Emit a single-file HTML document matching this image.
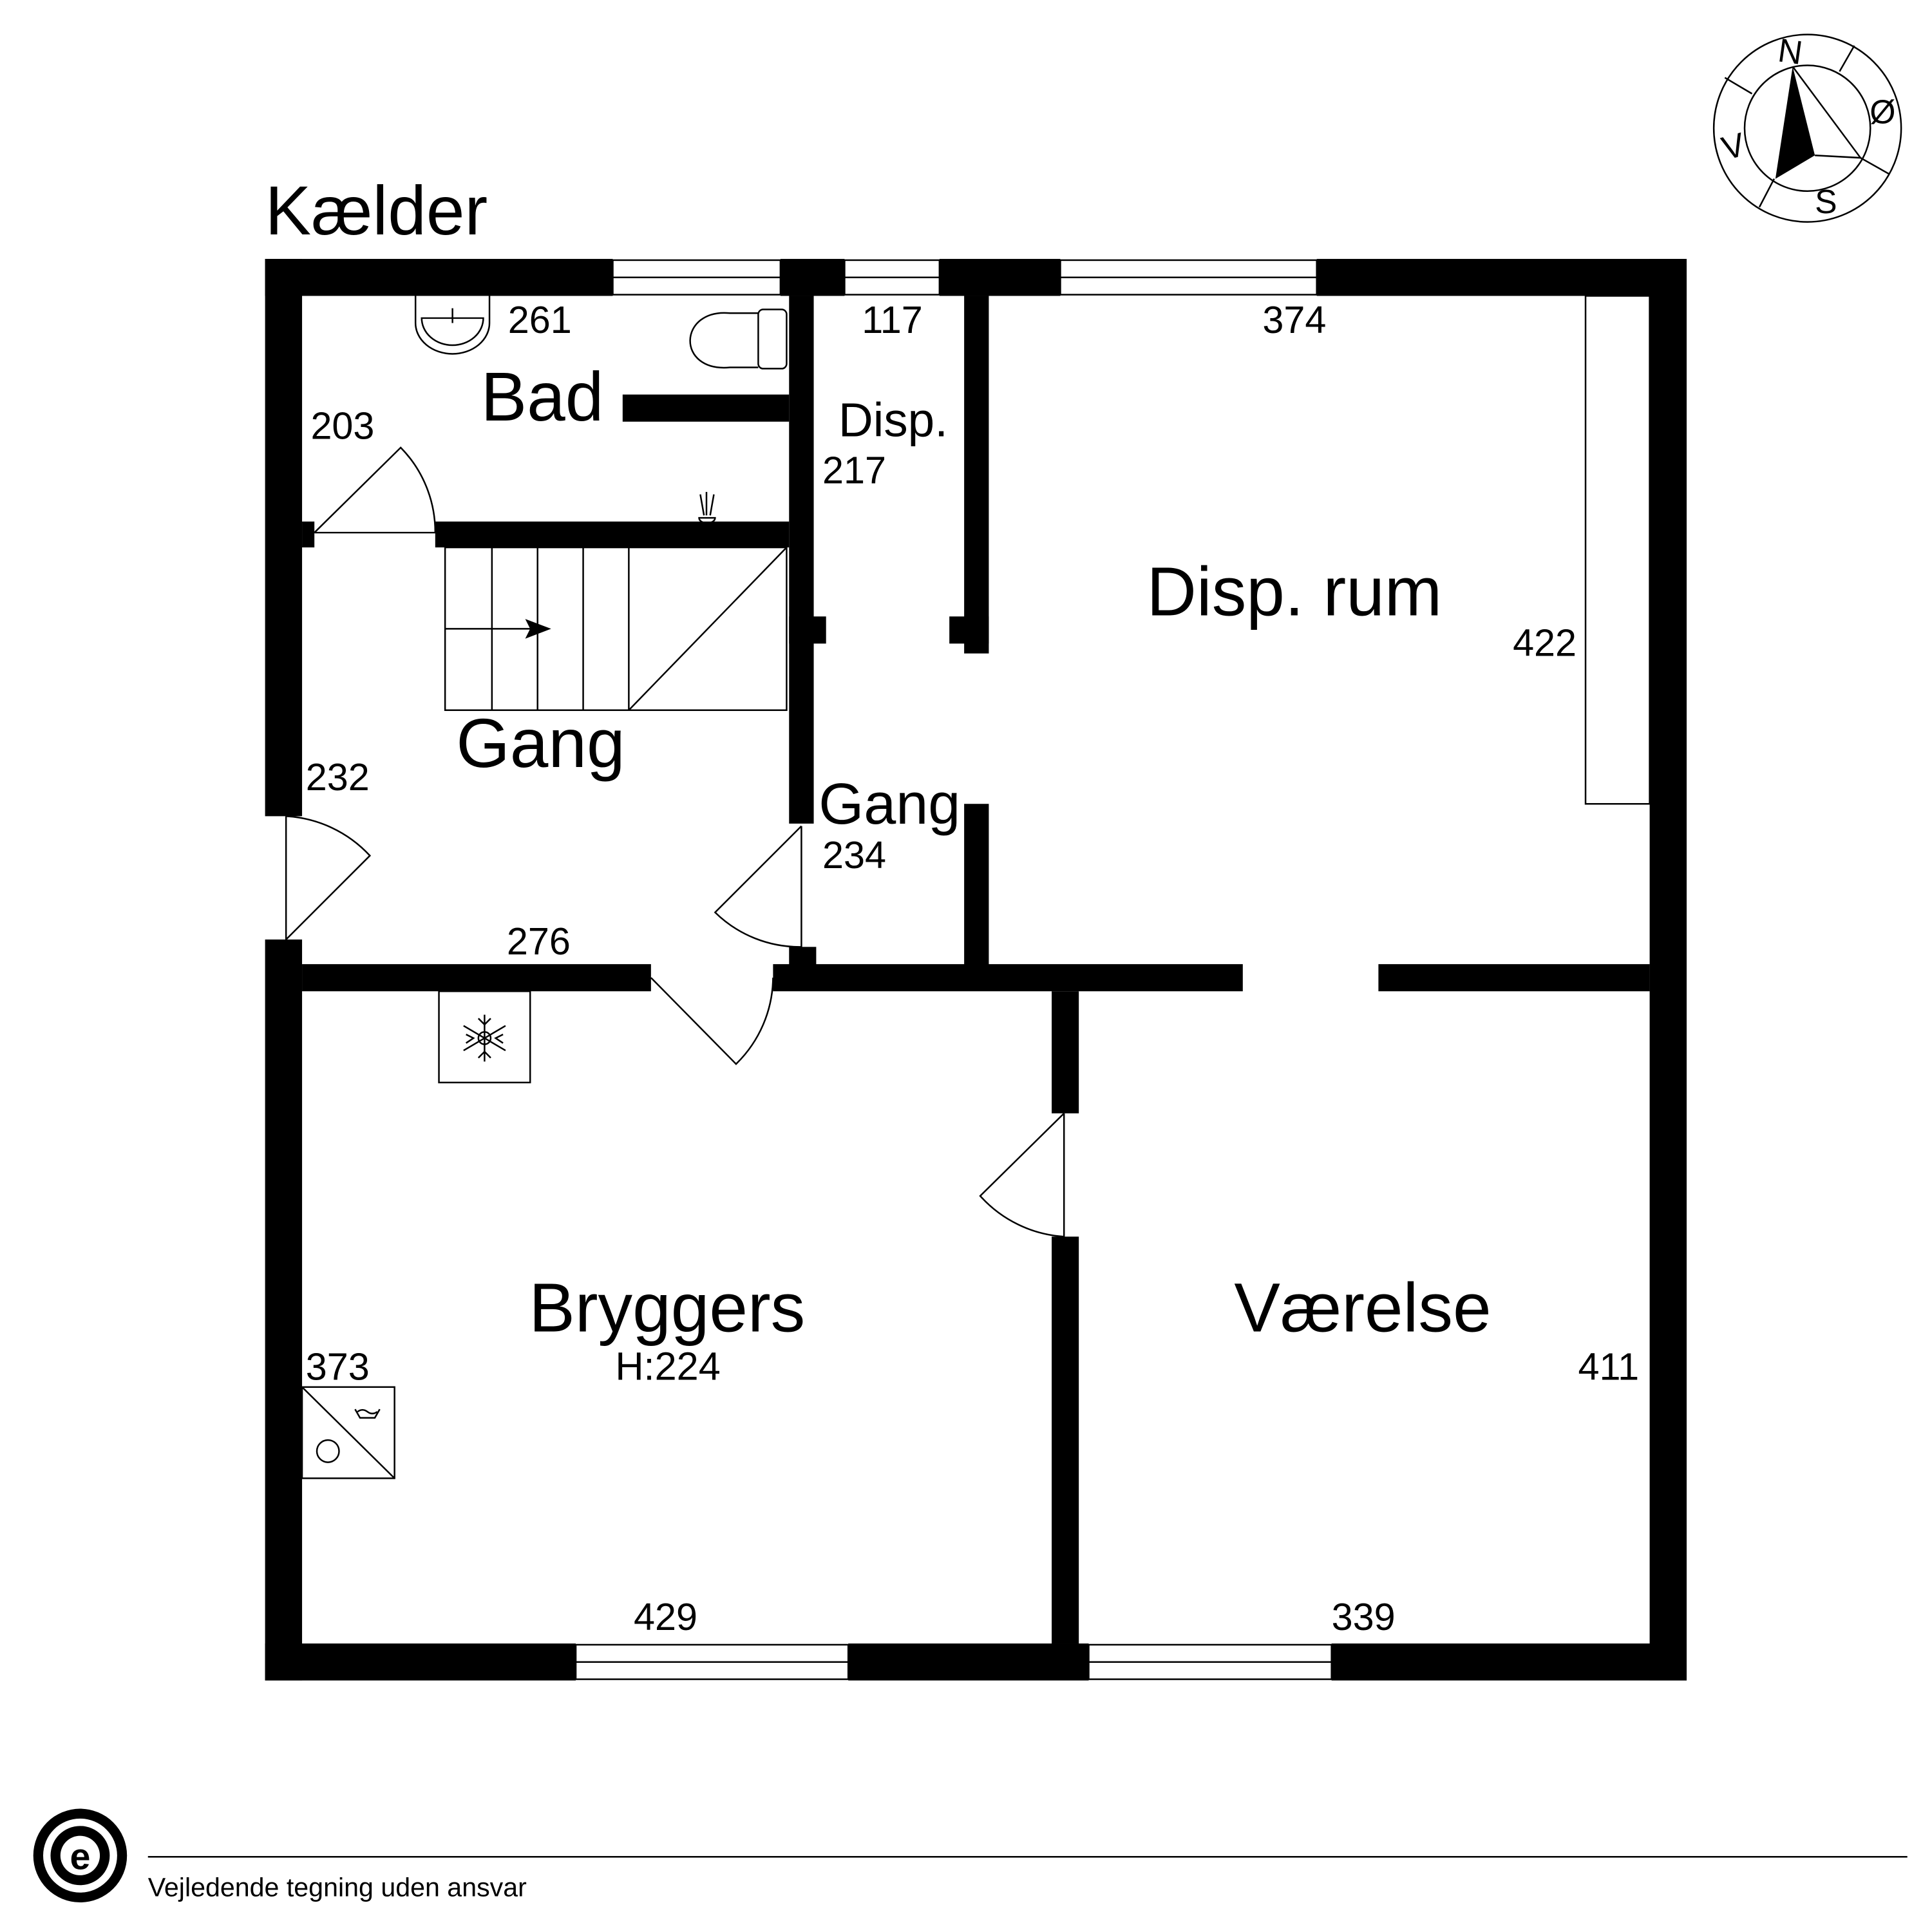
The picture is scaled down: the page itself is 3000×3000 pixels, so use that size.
<!DOCTYPE html>
<html><head><meta charset="utf-8"><style>html,body{margin:0;padding:0;background:#fff}svg{display:block}text{font-family:"Liberation Sans",sans-serif;fill:#000}</style></head><body>
<svg width="3000" height="3000" viewBox="0 0 1567 1567" xmlns="http://www.w3.org/2000/svg">
<rect width="1567" height="1567" fill="#fff"/>
<g fill="#000">
<rect x="215" y="210" width="282" height="30"/>
<rect x="633" y="210" width="52" height="30"/>
<rect x="762" y="210" width="98" height="30"/>
<rect x="1068" y="210" width="300" height="30"/>
<rect x="215" y="210" width="30" height="452"/>
<rect x="215" y="762" width="30" height="601"/>
<rect x="1338" y="210" width="30" height="1153"/>
<rect x="215" y="1333" width="252" height="30"/>
<rect x="688" y="1333" width="195" height="30"/>
<rect x="1080" y="1333" width="288" height="30"/>
<rect x="640" y="240" width="20" height="428"/>
<rect x="640" y="500" width="30" height="22"/>
<rect x="640" y="768" width="22" height="16"/>
<rect x="782" y="240" width="20" height="290"/>
<rect x="770" y="500" width="32" height="22"/>
<rect x="782" y="652" width="20" height="132"/>
<rect x="505" y="320" width="135" height="22"/>
<rect x="353" y="423" width="287" height="21"/>
<rect x="245" y="423" width="10" height="21"/>
<rect x="245" y="782" width="283" height="22"/>
<rect x="627" y="782" width="381" height="22"/>
<rect x="1118" y="782" width="220" height="22"/>
<rect x="853" y="804" width="22" height="99"/>
<rect x="853" y="1003" width="22" height="330"/>
</g>
<g fill="none" stroke="#000" stroke-width="1.3">
<rect x="497" y="211" width="136" height="28"/><line x1="497" y1="225" x2="633" y2="225"/>
<rect x="685" y="211" width="77" height="28"/><line x1="685" y1="225" x2="762" y2="225"/>
<rect x="860" y="211" width="208" height="28"/><line x1="860" y1="225" x2="1068" y2="225"/>
<rect x="467" y="1334" width="221" height="28"/><line x1="467" y1="1348" x2="688" y2="1348"/>
<rect x="883" y="1334" width="197" height="28"/><line x1="883" y1="1348" x2="1080" y2="1348"/>
<rect x="1286" y="240" width="52" height="412"/>
<rect x="361" y="444" width="277" height="132"/>
<line x1="399" y1="444" x2="399" y2="576"/><line x1="436" y1="444" x2="436" y2="576"/><line x1="473" y1="444" x2="473" y2="576"/><line x1="510" y1="444" x2="510" y2="576"/>
<line x1="510" y1="576" x2="638" y2="444"/>
<line x1="361" y1="510" x2="435" y2="510"/>
<path d="M255 432 H353 A98 98 0 0 0 325 363 L255 432"/>
<path d="M232 662 V762 L300 694 A100 100 0 0 0 232 662"/>
<path d="M650 670 V768 A98 98 0 0 1 580 740 L650 670"/>
<path d="M528 793 L597 863 A99 99 0 0 0 627 793"/>
<path d="M863 903 V1003 A100 100 0 0 1 795 970 L863 903"/>
<path d="M337 240 V262 A30 25 0 0 0 397 262 V240"/>
<path d="M342 258 H392 A25 22 0 0 1 342 258 Z"/>
<line x1="367" y1="250" x2="367" y2="262"/>
<path d="M615 254 H592 C550 250 548 302 592 298 H615"/>
<rect x="615" y="251" width="23" height="48" rx="4"/>
<path d="M567 420 A6 4 0 0 0 580 420 Z"/>
<line x1="573" y1="418" x2="573" y2="399"/><line x1="571" y1="418" x2="568" y2="401"/><line x1="576" y1="418" x2="579" y2="401"/>
<rect x="356" y="804" width="74" height="74"/>
<rect x="245" y="1125" width="75" height="74"/>
<line x1="245" y1="1125" x2="320" y2="1199"/>
<circle cx="266" cy="1177" r="9"/>
<path d="M288 1143 L292 1150 H304 L308 1143 M290 1145 Q294 1142 298 1145 Q302 1148 306 1145"/>
<!-- compass -->
<circle cx="1466" cy="104" r="76"/>
<circle cx="1466" cy="104" r="51"/>
<line x1="1504" y1="37" x2="1492" y2="58"/>
<line x1="1399" y1="63" x2="1421" y2="76"/>
<line x1="1509" y1="128" x2="1532" y2="141"/>
<line x1="1439" y1="145" x2="1427" y2="168"/>
<path d="M1454 54 L1509 128 L1472 126"/>
<line x1="120" y1="1506" x2="1547" y2="1506"/>
</g>
<polygon points="447,510 426,502 430,510 426,518" fill="#000"/>
<polygon points="1454,54 1472,126 1440,145" fill="#000"/>
<g stroke="#000" stroke-width="1.3" fill="none">
<line x1="393" y1="823" x2="393" y2="861"/><line x1="376" y1="832" x2="410" y2="852"/><line x1="376" y1="852" x2="410" y2="832"/>
<path d="M388 826 L393 831 L398 826 M388 858 L393 853 L398 858 M378 839 L384 842 L378 846 M408 839 L402 842 L408 846"/>
<circle cx="393" cy="842" r="5"/>
</g>
<g>
<circle cx="65" cy="1505" r="38" fill="#000"/>
<circle cx="65" cy="1505" r="30" fill="#fff"/>
<circle cx="65" cy="1505" r="24" fill="#000"/>
<circle cx="65" cy="1505" r="16" fill="#fff"/>
<text x="65" y="1516" font-size="30" font-weight="bold" text-anchor="middle">e</text>
</g>
<text x="215" y="190" font-size="56">Kælder</text>
<text x="390" y="341" font-size="56">Bad</text>
<text x="412" y="270" font-size="31">261</text>
<text x="252" y="356" font-size="31">203</text>
<text x="699" y="270" font-size="31">117</text>
<text x="1024" y="270" font-size="31">374</text>
<text x="680" y="354" font-size="39">Disp.</text>
<text x="667" y="392" font-size="31">217</text>
<text x="930" y="499" font-size="56">Disp. rum</text>
<text x="1227" y="532" font-size="31">422</text>
<text x="370" y="622" font-size="56">Gang</text>
<text x="248" y="641" font-size="31">232</text>
<text x="664" y="668" font-size="47">Gang</text>
<text x="667" y="704" font-size="31">234</text>
<text x="411" y="774" font-size="31">276</text>
<text x="429" y="1080" font-size="56">Bryggers</text>
<text x="499" y="1119" font-size="32">H:224</text>
<text x="248" y="1119" font-size="31">373</text>
<text x="1001" y="1080" font-size="56">Værelse</text>
<text x="1280" y="1119" font-size="31">411</text>
<text x="514" y="1322" font-size="31">429</text>
<text x="1080" y="1322" font-size="31">339</text>
<text x="1452" y="51" font-size="27" text-anchor="middle" transform="rotate(8 1452 42)">N</text>
<text x="1527" y="100" font-size="27" text-anchor="middle">Ø</text>
<text x="1481" y="173" font-size="27" text-anchor="middle">S</text>
<text x="1406" y="128" font-size="27" text-anchor="middle" transform="rotate(-15 1406 119)">V</text>
<text x="120" y="1538" font-size="21.5">Vejledende tegning uden ansvar</text>
</svg>
</body></html>
